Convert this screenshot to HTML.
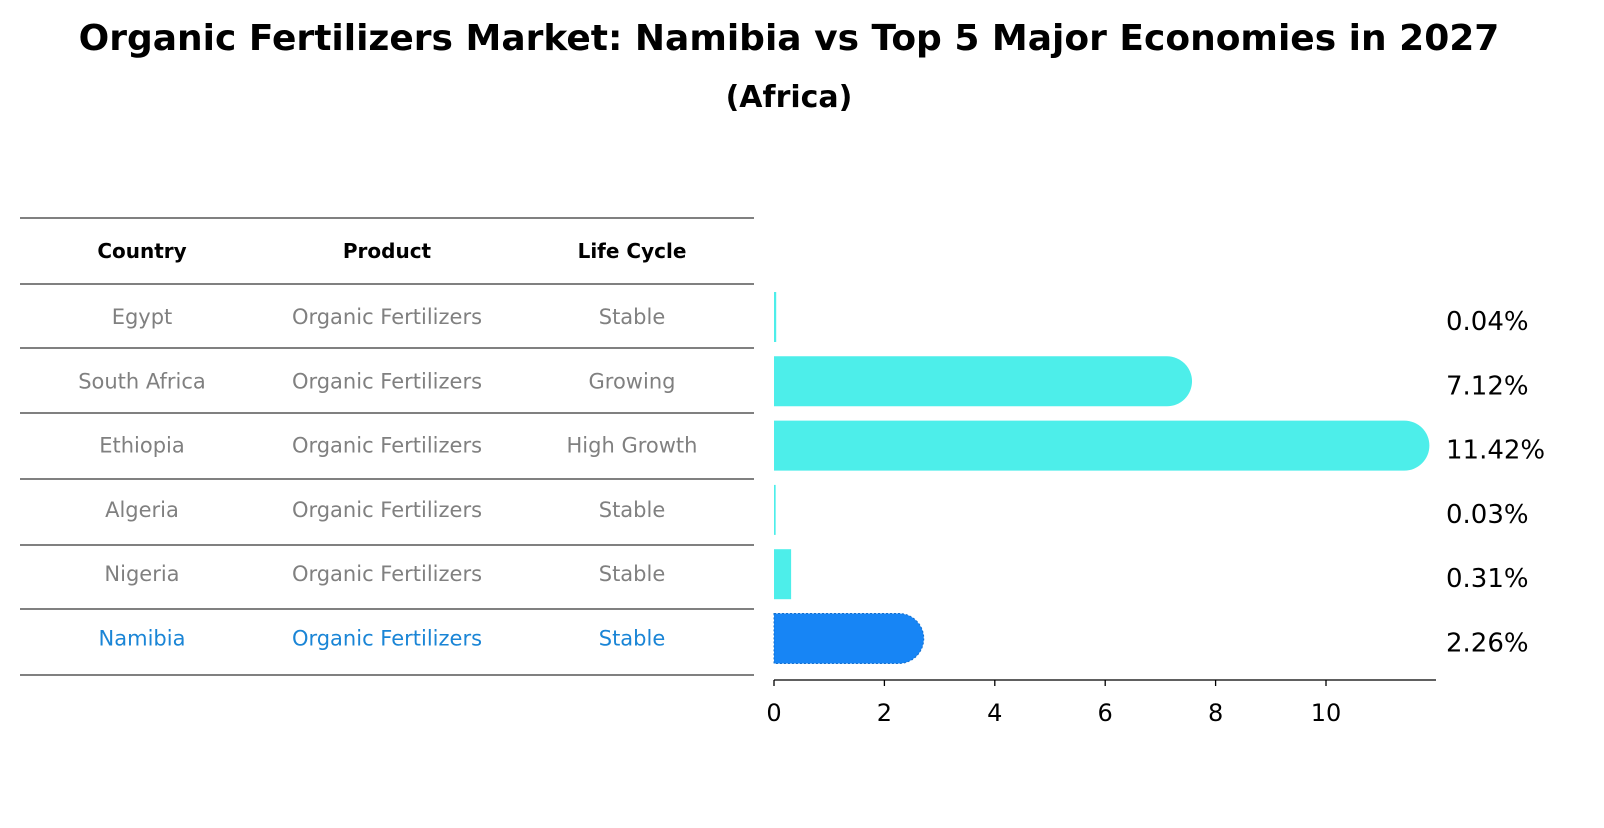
<!DOCTYPE html>
<html><head><meta charset="utf-8"><style>
body{margin:0;background:#fff;font-family:"Liberation Sans","DejaVu Sans",sans-serif}
svg text{font-family:"DejaVu Sans","Liberation Sans",sans-serif}
</style></head><body>
<svg id="c" width="1604" height="823">
<text x="789" y="50" text-anchor="middle" font-size="36" font-weight="bold">Organic Fertilizers Market: Namibia vs Top 5 Major Economies in 2027</text>
<text x="789" y="107" text-anchor="middle" font-size="30" font-weight="bold">(Africa)</text>
<g id="tbl"></g>
<g id="bars"></g>
</svg>
<script>
const countries=["Egypt","South Africa","Ethiopia","Algeria","Nigeria","Namibia"];
const products=["Organic Fertilizers","Organic Fertilizers","Organic Fertilizers","Organic Fertilizers","Organic Fertilizers","Organic Fertilizers"];
const lifeCycles=["Stable","Growing","High Growth","Stable","Stable","Stable"];
const values=[0.04,7.12,11.42,0.03,0.31,2.26];
const valueLabels=["0.04%","7.12%","11.42%","0.03%","0.31%","2.26%"];
const xTicks=[0,2,4,6,8,10];
const NS="http://www.w3.org/2000/svg";
function mk(tag,attrs,parent,txt){const e=document.createElementNS(NS,tag);for(const k in attrs)e.setAttribute(k,attrs[k]);if(txt!==undefined)e.textContent=txt;parent.appendChild(e);return e;}
const tbl=document.getElementById('tbl'),bars=document.getElementById('bars');
const x0=774,pxPer=55.2;
const xs=v=>x0+v*pxPer;
const rowY=i=>317+i*64.3;
const lineYs=[218,284,348,413,479,545,609,675];
lineYs.forEach(y=>{const l=mk('line',{x1:20,x2:754,y1:y,y2:y,stroke:'#000','stroke-width':1},tbl);

});
const cols=[142,387,632];
["Country","Product","Life Cycle"].forEach((h,j)=>{const t=mk('text',{x:cols[j],y:258,'text-anchor':'middle','font-size':20,'font-weight':'bold'},tbl,h);

});
countries.forEach((c,i)=>{
 const col=c==="Namibia"?'#1a85d6':'#808080';
 [c,products[i],lifeCycles[i]].forEach((v,j)=>{const t=mk('text',{x:cols[j],y:rowY(i)+7,'text-anchor':'middle','font-size':21,fill:col},tbl,v);
 
 });
 const h=50,y=rowY(i)-h/2,w=Math.max(1.5,xs(values[i])-x0);
 const fill=c==="Namibia"?'#1785f5':'#4deeea';
 let b;
 if(values[i]>1){
  const r=h/2;
  b=mk('path',{d:`M${x0},${y}H${x0+w}A${r},${r} 0 0 1 ${x0+w},${y+h}H${x0}Z`,fill:fill},bars);
  if(c==="Namibia"){b.setAttribute('stroke','#1370d0');b.setAttribute('stroke-dasharray','2,2');}
 } else b=mk('rect',{x:x0,y:y,width:w,height:h,fill:fill},bars);
 
 
 const t=mk('text',{x:1446,y:rowY(i)+13,'font-size':26},bars,valueLabels[i]);
 
 
});
const ax=mk('line',{x1:x0,x2:1436,y1:680,y2:680,stroke:'#000','stroke-width':1.3},bars);


xTicks.forEach(v=>{const tk=mk('line',{x1:xs(v),x2:xs(v),y1:680,y2:686,stroke:'#000','stroke-width':1.3},bars);


const t=mk('text',{x:xs(v),y:721,'text-anchor':'middle','font-size':24},bars,String(v));

});
</script>
</body></html>
